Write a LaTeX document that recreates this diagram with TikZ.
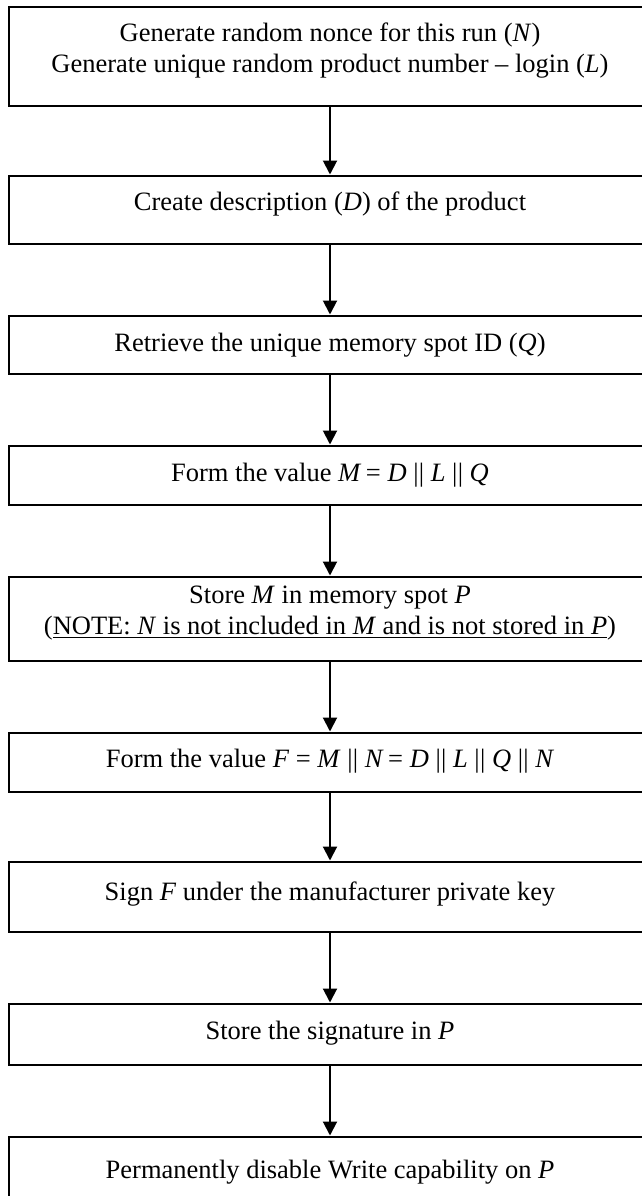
\documentclass[tikz,border=0pt]{standalone}
\usepackage{fontspec}
\setmainfont{Liberation Serif}
\usetikzlibrary{arrows.meta}
\tikzset{
  stepbox/.style={draw=black, line width=2pt, minimum width=642pt, inner sep=0pt},
  steptext/.style={align=center, inner sep=0pt, font=\fontsize{26.5}{31}\selectfont},
  flow/.style={draw=black, line width=2pt, -{Triangle[width=14pt,length=14pt]}, shorten >=0.5pt}
}
\newcommand{\pp}{\ |\kern0.3pt|\ }
\begin{document}
\begin{tikzpicture}[x=1pt,y=-1pt]
\useasboundingbox (0,0) rectangle (642,1196);
\fill[white] (0,0) rectangle (642,1196);
\begin{scope}
\clip (0,0) rectangle (642,1196);
% boxes (right side and bottom of the last box run past the picture edge)
\node[stepbox, minimum height=99pt] (b1) at (330,56.5) {};
\node[stepbox, minimum height=68pt] (b2) at (330,210) {};
\node[stepbox, minimum height=58pt] (b3) at (330,345) {};
\node[stepbox, minimum height=59pt] (b4) at (330,475.5) {};
\node[stepbox, minimum height=84pt] (b5) at (330,619) {};
\node[stepbox, minimum height=59pt] (b6) at (330,762.5) {};
\node[stepbox, minimum height=70pt] (b7) at (330,897) {};
\node[stepbox, minimum height=61pt] (b8) at (330,1034.5) {};
\node[stepbox, minimum height=72pt] (b9) at (330,1173) {};
% texts
\node[steptext] (t1) at (330,51) {Generate random nonce for this run (\textit{N})\\Generate unique random product number -- login (\textit{L})};
\node[steptext] (t2) at (330,204) {Create description (\textit{D}) of the product};
\node[steptext] (t3) at (330,345) {Retrieve the unique memory spot ID (\textit{Q})};
\node[steptext] (t4) at (330,475.5) {Form the value \textit{M}\,= \textit{D}\pp\textit{L}\pp\textit{Q}};
\node[steptext] (t5) at (330,613.5) {Store \textit{M} in memory spot \textit{P}\\(\underline{NOTE: \textit{N} is not included in \textit{M} and is not stored in \textit{P}})};
\node[steptext] (t6) at (330,761) {Form the value \textit{F} = \textit{M}\pp\textit{N}\,= \textit{D}\pp\textit{L}\pp\textit{Q}\pp\textit{N}};
\node[steptext] (t7) at (330,894) {Sign \textit{F} under the manufacturer private key};
\node[steptext] (t8) at (330,1033.5) {Store the signature in \textit{P}};
\node[steptext] (t9) at (330,1172) {Permanently disable Write capability on \textit{P}};
% arrows
\draw[flow] (b1.south) -- (b2.north);
\draw[flow] (b2.south) -- (b3.north);
\draw[flow] (b3.south) -- (b4.north);
\draw[flow] (b4.south) -- (b5.north);
\draw[flow] (b5.south) -- (b6.north);
\draw[flow] (b6.south) -- (b7.north);
\draw[flow] (b7.south) -- (b8.north);
\draw[flow] (b8.south) -- (b9.north);
\end{scope}
\end{tikzpicture}
\end{document}
